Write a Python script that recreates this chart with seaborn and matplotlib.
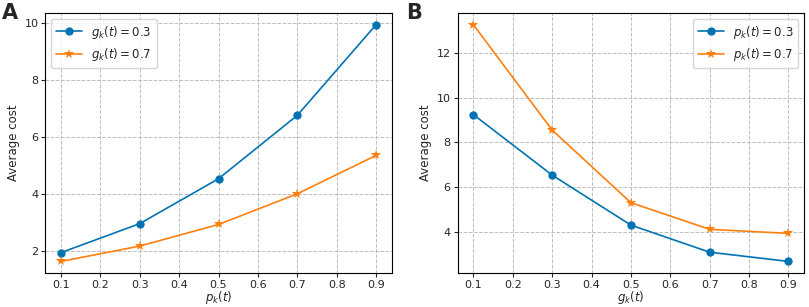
import matplotlib
matplotlib.use("Agg")
import matplotlib.pyplot as plt
import seaborn as sns
import pandas as pd

# x values (shared by both panels)
x_vals = [0.1, 0.3, 0.5, 0.7, 0.9]

# panel A: average cost vs p_k(t)
a_g03 = [1.93, 2.95, 4.53, 6.76, 9.95]
a_g07 = [1.62, 2.16, 2.92, 4.00, 5.35]

# panel B: average cost vs g_k(t)
b_p03 = [9.24, 6.54, 4.31, 3.10, 2.69]
b_p07 = [13.25, 8.55, 5.31, 4.12, 3.94]

blue = "#0173B2"
orange = "#FF800E"

sns.set_style("ticks")
plt.rcParams["font.family"] = ["DejaVu Sans"]
plt.rcParams["mathtext.fontset"] = "dejavusans"

fig, axes = plt.subplots(1, 2, figsize=(8.09, 3.07), dpi=100)

panels = [
    (axes[0], a_g03, a_g07, r"$g_k(t) = 0.3$", r"$g_k(t) = 0.7$", r"$p_k(t)$", "upper left"),
    (axes[1], b_p03, b_p07, r"$p_k(t) = 0.3$", r"$p_k(t) = 0.7$", r"$g_k(t)$", "upper right"),
]

for ax, s1, s2, lab1, lab2, xlab, loc in panels:
    df = pd.DataFrame({"x": x_vals, "s1": s1, "s2": s2})
    sns.lineplot(data=df, x="x", y="s1", ax=ax, color=blue, marker="o",
                 markersize=6, markeredgewidth=0, linewidth=1.2, label=lab1)
    sns.lineplot(data=df, x="x", y="s2", ax=ax, color=orange, marker="*",
                 markersize=7, markeredgewidth=0, linewidth=1.2, label=lab2)
    ax.set_xticks([0.1, 0.2, 0.3, 0.4, 0.5, 0.6, 0.7, 0.8, 0.9])
    ax.grid(True, linestyle="--", color="#bdbdbd", linewidth=0.7)
    ax.set_xlabel(xlab, fontsize=8.5, labelpad=-1)
    ax.set_ylabel("Average cost", fontsize=8.5, labelpad=3)
    ax.tick_params(labelsize=8, length=3, pad=2)
    for sp in ax.spines.values():
        sp.set_linewidth(0.8)
        sp.set_color("black")
    ax.legend(loc=loc, fontsize=8.5, handlelength=2.2)

axes[0].set_yticks([2, 4, 6, 8, 10])
axes[1].set_yticks([4, 6, 8, 10, 12])

fig.subplots_adjust(left=0.056, right=0.994, top=0.958, bottom=0.11, wspace=0.19)
fig.text(0.002, 0.99, "A", fontsize=15, fontweight="bold", va="top", ha="left")
fig.text(0.502, 0.99, "B", fontsize=15, fontweight="bold", va="top", ha="left")

fig.savefig("out.png", dpi=100)
